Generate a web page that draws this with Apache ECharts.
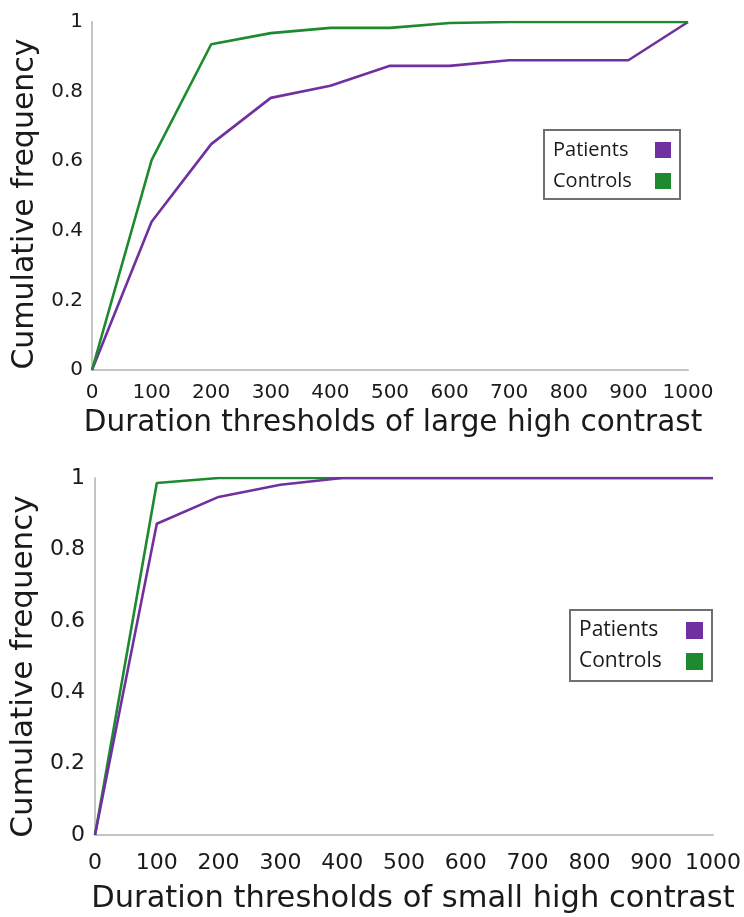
<!DOCTYPE html>
<html>
<head>
<meta charset="utf-8">
<script src="https://cdn.jsdelivr.net/npm/echarts@6/dist/echarts.min.js"></script>
<style>
  html, body { margin: 0; padding: 0; background: #fff; }
  #chart { width: 744px; height: 917px; }
</style>
</head>
<body>
<div id="chart"></div>
<script>
// Duration thresholds (ms) shared by both panels
const thresholds = [0, 100, 200, 300, 400, 500, 600, 700, 800, 900, 1000];

// Panel 1: large high-contrast stimuli
const largePatients = [0, 0.426, 0.649, 0.782, 0.817, 0.874, 0.874, 0.89, 0.89, 0.89, 1];
const largeControls = [0, 0.603, 0.936, 0.968, 0.983, 0.983, 0.997, 1, 1, 1, 1];

// Panel 2: small high-contrast stimuli
const smallPatients = [0, 0.872, 0.947, 0.981, 1, 1, 1, 1, 1, 1, 1];
const smallControls = [0, 0.986, 1, 1, 1, 1, 1, 1, 1, 1, 1];

const seriesNames = ['Patients', 'Controls'];
const xTitles = ['Duration thresholds of large high contrast', 'Duration thresholds of small high contrast'];
const yTitle = 'Cumulative frequency';

const PURPLE = '#7030a0';
const GREEN = '#1e8a2e';
const AXIS_GRAY = '#c4c4c4';
const TEXT = '#1a1a1a';
const FONT = '"DejaVu Sans", Verdana, sans-serif';

const pairs = (xs, ys) => xs.map((x, i) => [x, ys[i]]);

function xAxisFor(gridIndex, labelSize, labelMargin, nameSize, nameGap, namePad) {
  return {
    type: 'value', gridIndex, min: 0, max: 1000, interval: 100,
    axisLine: { show: true, lineStyle: { color: AXIS_GRAY, width: 2 } },
    axisTick: { show: false },
    splitLine: { show: false },
    axisLabel: { color: TEXT, fontSize: labelSize, fontFamily: FONT, margin: labelMargin,
                 formatter: v => String(v) },
    name: xTitles[gridIndex], nameLocation: 'middle', nameGap,
    nameTextStyle: { color: TEXT, fontSize: nameSize, fontFamily: FONT, padding: namePad }
  };
}

function yAxisFor(gridIndex, labelSize, labelMargin, nameSize, nameGap, namePad) {
  return {
    type: 'value', gridIndex, min: 0, max: 1, interval: 0.2,
    axisLine: { show: true, lineStyle: { color: AXIS_GRAY, width: 2 } },
    axisTick: { show: false },
    splitLine: { show: false },
    axisLabel: { color: TEXT, fontSize: labelSize, fontFamily: FONT, margin: labelMargin,
                 formatter: v => String(v) },
    name: yTitle, nameLocation: 'middle', nameGap,
    nameTextStyle: { color: TEXT, fontSize: nameSize, fontFamily: FONT, padding: namePad }
  };
}

function lineSeries(name, data, color, idx) {
  return {
    name, type: 'line', xAxisIndex: idx, yAxisIndex: idx,
    data, showSymbol: false, symbol: 'none', smooth: false,
    lineStyle: { color, width: 2.6 }, itemStyle: { color },
    animation: false
  };
}

// Boxed legend: names left-aligned in a fixed-width slot, swatch on the right
function legendFor(left, top, textWidth, fontSize, lineHeight, gap, pad, swatch) {
  return {
    orient: 'vertical', left, top, align: 'right',
    data: seriesNames, icon: 'rect', itemWidth: swatch, itemHeight: swatch, itemGap: gap,
    padding: pad, borderColor: '#707070', borderWidth: 2, borderRadius: 0,
    backgroundColor: '#fff', selectedMode: false,
    formatter: '{n|{name}}',
    textStyle: {
      color: TEXT,
      rich: { n: { width: textWidth, align: 'left', fontSize, lineHeight,
                   fontFamily: '"Open Sans", "Noto Sans", sans-serif', color: TEXT } }
    }
  };
}

const chart = echarts.init(document.getElementById('chart'), null, { renderer: 'canvas' });
chart.setOption({
  animation: false,
  backgroundColor: '#fff',
  grid: [
    { left: 92, top: 22, right: 56, height: 348 },
    { left: 95, top: 478, right: 31, height: 357 }
  ],
  xAxis: [
    xAxisFor(0, 20, 13, 29.5, 38, [0, 0, 0, 6]),
    xAxisFor(1, 22, 17, 30.5, 49, [0, 0, 0, 18])
  ],
  yAxis: [
    yAxisFor(0, 20, 9, 30, 50, [0, 16, 0, 0]),
    yAxisFor(1, 22, 10, 31, 52, [0, 20, 0, 0])
  ],
  legend: [
    legendFor(544, 130, 97, 20, 20, 11, [10, 9, 8, 9], 16),
    legendFor(570, 610, 102, 21, 21, 10, [10, 9, 9, 9], 17)
  ],
  series: [
    lineSeries(seriesNames[0], pairs(thresholds, largePatients), PURPLE, 0),
    lineSeries(seriesNames[1], pairs(thresholds, largeControls), GREEN, 0),
    lineSeries(seriesNames[1], pairs(thresholds, smallControls), GREEN, 1),
    lineSeries(seriesNames[0], pairs(thresholds, smallPatients), PURPLE, 1)
  ]
});
</script>
</body>
</html>
